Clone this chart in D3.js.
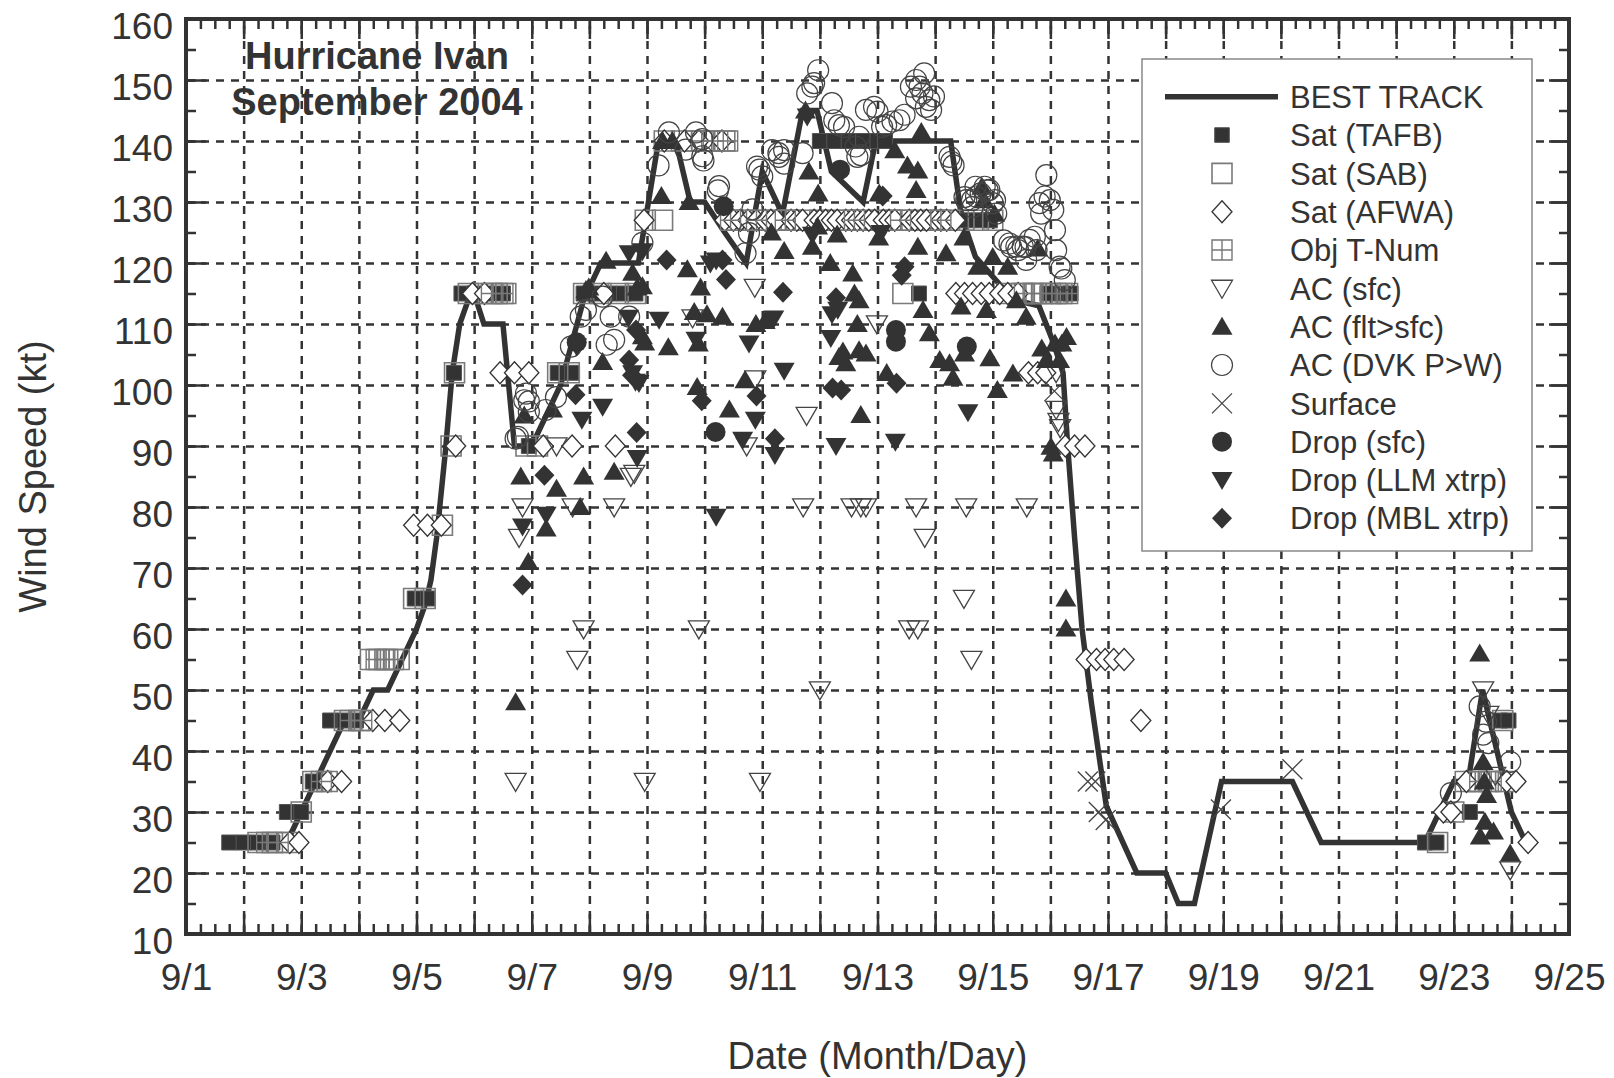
<!DOCTYPE html>
<html>
<head>
<meta charset="utf-8">
<script src="https://cdn.jsdelivr.net/npm/d3@7"></script>
<style>
  body { margin: 0; background: #fff; }
  svg text { font-family: "Liberation Sans", Arial, Helvetica, sans-serif; fill: #333; }
</style>
</head>
<body>
<svg width="1614" height="1078"></svg>
<script>
// ---- data: [day of September, wind speed kt] ----
var bestTrack = [[2.75,25],[3.0,30],[3.75,45],[4.0,45],[4.25,50],[4.5,50],[4.75,55],[5.0,60],[5.15,64],[5.25,68],[5.35,75],[5.5,89],[5.62,102],[5.75,110],[5.9,114],[6.0,115],[6.17,110],[6.5,110],[6.7,90],[7.0,90],[7.5,100],[7.9,114],[8.2,120],[8.85,120],[9.2,140],[9.5,140],[9.75,130],[10.0,130],[10.35,125],[10.72,120],[11.0,135],[11.35,128],[11.7,145],[11.95,145],[12.2,135],[12.75,130],[12.97,140],[14.27,140],[14.45,128],[14.7,121],[15.35,114],[15.8,113],[16.05,107],[16.22,102],[16.3,90],[16.42,75],[16.55,60],[16.71,48],[16.97,31],[17.5,20],[18.0,20],[18.22,15],[18.5,15],[18.97,35],[20.2,35],[20.7,25],[22.5,25],[23.0,35],[23.25,35],[23.5,50],[23.75,40],[24.0,30],[24.25,25]]

var satTAFB = [[1.75,25],[2.0,25],[2.25,25],[2.5,25],[2.75,30],[3.0,30],[3.2,35],[3.5,45],[3.75,45],[3.95,45],[4.97,65],[5.2,65],[5.65,102],[5.78,115],[6.0,115],[6.25,115],[6.5,115],[6.95,90],[7.45,102],[7.7,102],[7.9,115],[8.1,115],[8.35,115],[8.6,115],[8.8,115],[12.0,140],[12.25,140],[12.5,140],[12.75,140],[13.0,140],[13.13,140],[13.72,115],[14.55,127],[14.8,127],[14.95,127],[15.95,115],[16.2,115],[16.35,115],[22.5,25],[22.7,25],[23.28,30],[23.8,45],[23.95,45]]

var satSAB = [[2.25,25],[2.5,25],[2.75,25],[3.0,30],[3.2,35],[3.45,35],[3.75,45],[4.0,45],[4.2,55],[4.35,55],[4.5,55],[4.7,55],[4.95,65],[5.15,65],[5.45,77],[5.6,90],[5.66,102],[5.9,115],[6.15,115],[6.4,115],[6.55,115],[6.9,90],[7.1,90],[7.45,102],[7.65,102],[7.9,115],[8.2,115],[8.5,115],[8.8,115],[8.97,127],[9.27,127],[9.3,140],[9.6,140],[9.85,140],[10.1,140],[10.35,140],[10.5,127],[10.75,127],[11.0,127],[11.25,127],[11.5,127],[11.75,127],[12.0,127],[12.25,127],[12.5,127],[12.75,127],[13.0,127],[13.25,127],[13.5,127],[13.75,127],[14.0,127],[14.25,127],[14.5,127],[14.75,127],[15.0,127],[13.44,115],[15.25,115],[15.5,115],[15.75,115],[16.0,115],[16.2,115],[22.72,25],[23.0,30],[23.2,35],[23.4,35],[23.6,35],[23.9,35],[23.85,45]]

var satAFWA = [[2.8,25],[2.96,25],[3.46,35],[3.7,35],[4.24,45],[4.45,45],[4.71,45],[4.95,77],[5.19,77],[5.43,77],[5.68,90],[5.97,115],[6.18,115],[6.45,102],[6.7,102],[6.95,102],[7.2,90],[7.7,90],[8.45,90],[8.25,115],[8.95,127],[9.3,140],[9.65,140],[9.9,140],[10.3,140],
  [10.35,127],[10.5,127],[10.62,127],[10.75,127],[10.9,127],[11.05,127],[11.15,127],[11.25,127],[11.5,127],[11.6,127],[11.7,127],[11.9,127],[12.0,127],[12.1,127],[12.2,127],[12.3,127],[12.45,127],[12.55,127],[12.65,127],[12.75,127],[12.85,127],[12.95,127],[13.1,127],[13.2,127],[13.3,127],[13.55,127],[13.65,127],[13.75,127],[13.85,127],[14.0,127],[14.1,127],[14.2,127],[14.35,127],
  [14.36,115],[14.51,115],[14.65,115],[14.8,115],[14.94,115],[15.12,115],[15.26,115],[15.44,115],[15.62,102],[15.78,102],[15.92,102],[16.26,90],[16.42,90],[16.6,90],[16.62,55],[16.8,55],[16.95,55],[17.1,55],[17.28,55],[17.57,45],[22.82,30],[22.95,30],[23.22,35],[23.92,35],[24.08,35],[24.29,25]]

var objTNum = [[2.4,25],[2.6,25],[3.35,35],[3.85,45],[4.05,45],[4.3,55],[4.45,55],[4.6,55],[6.3,115],[6.5,115],[9.95,140],[10.15,140],[10.4,140],[10.45,127],[10.9,127],[11.4,127],[12.6,127],[13.4,127],[14.1,127],[15.55,115],[15.7,115],[15.85,115],[16.1,115],[16.3,115],[23.45,35],[23.65,35]]

var acSfc = [[6.72,35],[6.78,75],[6.84,80],[7.43,90],[7.71,80],[7.79,55],[7.9,60],[8.43,80],[8.72,85],[8.78,85.5],[8.96,35],[9.79,111],[9.9,60],[10.73,90],[10.88,101],[10.87,116],[10.96,35],[11.71,80],[11.77,95],[12.0,50],[12.55,80],[12.71,80],[12.8,80],[12.99,110],[13.55,60],[13.7,60],[13.67,80],[13.82,75],[14.5,65],[14.54,80],[14.63,55],[15.59,80],[16.1,102],[16.1,96],[16.14,94],[16.17,93],[23.51,50],[23.6,46],[23.72,36],[23.98,20.5]]

var acFlt = [[6.72,48],[6.81,85],[6.87,95],[6.94,71],[7.25,76.5],[7.36,96],[7.43,83],[7.84,80],[7.9,85],[7.94,115.6],[7.99,116],[8.23,103.8],[8.29,120.4],[8.43,85.8],[8.75,118.4],[8.83,116],[8.92,116.2],[8.92,108],[8.96,107],[9.25,131],[9.27,140],[9.44,140],[9.37,106.2],[9.7,119],[9.73,130],[9.82,112],[9.87,99.7],[9.89,106.8],[9.93,116],[10.04,111.6],[10.31,111.2],[10.43,96],[10.7,100.8],[10.89,110],[11.05,110.5],[11.16,125],[11.38,122],[11.75,145],[11.81,135],[11.87,122.7],[11.96,126],[11.97,131.4],[12.18,120],[12.3,124.7],[12.33,104.6],[12.4,105.5],[12.45,103.6],[12.57,118.3],[12.6,115],[12.65,110],[12.68,105.7],[12.68,113.9],[12.71,95.1],[12.8,105.2],[13.03,131.4],[13.02,124.2],[13.16,102],[13.3,138.5],[13.52,136],[13.7,135.2],[13.67,132],[13.76,141.5],[13.7,122.7],[13.79,112.3],[13.9,108.5],[14.08,104.1],[14.19,121.6],[14.25,103.6],[14.31,101.2],[14.45,112.9],[14.5,124.2],[14.51,105.2],[14.74,119.4],[14.81,132.5],[14.85,130.3],[14.89,112.3],[14.95,104.4],[15.0,121],[15.03,128.1],[15.08,99.2],[15.26,119.4],[15.35,101.9],[15.41,113.9],[15.58,111.2],[15.78,122.4],[15.85,106],[15.93,104.1],[16.01,89.9],[16.05,88.8],[16.08,106.8],[16.16,104.1],[16.2,106.8],[16.28,107.9],[16.27,65],[16.27,60.1],[23.45,56],[23.51,38.2],[23.53,35],[23.57,32.8],[23.54,28.4],[23.46,26],[23.69,26.8],[23.98,23.2]]

var acDVK = [[6.72,91.2],[6.76,91.5],[6.87,97.5],[6.9,98.6],[6.95,97.3],[6.95,95.6],[7.24,95.9],[7.42,98],[7.68,106.3],[7.85,111.2],[7.94,112.3],[8.23,114.5],[8.3,106.6],[8.37,111.2],[8.43,107.4],[8.69,111.2],[8.92,123.3],[9.2,136],[9.38,141.4],[9.67,138.6],[9.85,141.4],[9.96,140.3],[9.96,137.5],[9.98,136.8],[10.23,131.9],[10.25,132.6],[10.71,121.6],[10.77,124.9],[10.83,128.8],[10.91,135.8],[10.95,135.3],[11.0,134.2],[11.17,138.5],[11.28,138],[11.29,137.4],[11.38,136.3],[11.38,138.5],[11.7,138],[11.78,147.8],[11.87,148.9],[11.9,149.5],[11.97,151.6],[12.21,146.2],[12.25,143.4],[12.33,142.6],[12.42,142.3],[12.62,139.1],[12.65,137.4],[12.68,140.7],[12.71,137.7],[12.8,145.1],[12.94,145.6],[13.0,144.8],[13.08,142.3],[13.15,142.6],[13.26,143.2],[13.38,143.4],[13.47,144.3],[13.58,148.9],[13.67,147],[13.67,150],[13.73,148.9],[13.78,147.8],[13.81,151.1],[13.84,145.6],[13.9,146.7],[13.93,145.1],[13.98,147.3],[14.25,137.4],[14.28,136.6],[14.32,136],[14.51,130.8],[14.54,130.3],[14.64,130.3],[14.65,129.2],[14.7,132.5],[14.71,130.9],[14.79,131.4],[14.86,132.5],[14.91,131.9],[14.94,132],[15.0,129.8],[15.04,130.3],[15.06,128.1],[15.19,123.7],[15.29,123.2],[15.32,122.6],[15.41,122.7],[15.44,122.1],[15.52,122.7],[15.57,122.6],[15.58,120.5],[15.64,123.8],[15.73,124.3],[15.76,122.1],[15.81,129.8],[15.84,128.1],[15.9,130.9],[15.93,134.4],[15.99,130.3],[16.05,128.7],[16.08,125.4],[16.1,122.1],[16.16,119.4],[16.19,119.1],[16.25,117.2],[22.95,33.1],[23.45,47.3],[23.51,42.7],[23.56,44.8],[23.6,41.3],[23.98,38.2]]

var surface = [[16.07,99],[16.65,35],[16.78,35],[16.84,30],[16.96,28.7],[18.96,30.4],[20.2,37]]

var dropSfc = [[7.78,107],[10.19,92.3],[10.33,129.3],[12.35,135.3],[13.32,107.1],[13.32,109],[14.55,106.3]]

var dropLLM = [[6.84,76.8],[7.25,78.7],[7.78,106.3],[7.87,94.3],[8.23,96.4],[8.68,111],[8.69,121.6],[8.75,101.9],[8.8,100.5],[8.83,88],[8.86,100.3],[8.92,121.9],[9.21,110.7],[9.85,107.4],[10.1,119.9],[10.2,120.4],[10.2,78.4],[10.66,91],[10.77,106.8],[10.88,94.3],[11.2,110.9],[11.22,88.5],[11.38,102.3],[11.78,144],[11.87,124.6],[12.19,107.7],[12.21,111.6],[12.28,90],[12.31,112.3],[13.06,124.9],[13.31,90.7],[14.57,95.5]]

var dropMBL = [[6.84,67.2],[7.22,85.2],[7.76,98.4],[8.69,104.1],[8.74,101.6],[8.81,109],[8.82,92.2],[9.34,120.5],[9.95,97.4],[10.31,120.5],[10.37,117.3],[10.9,98.2],[11.22,91.2],[11.36,115.2],[12.22,99.5],[12.37,99.2],[12.28,114.3],[13.09,131],[13.33,100.3],[13.42,118],[13.47,119.4]]

var xTickDays = [1,3,5,7,9,11,13,15,17,19,21,23,25]
var yTickValues = [10,20,30,40,50,60,70,80,90,100,110,120,130,140,150,160]
var legendNames = ["BEST TRACK","Sat (TAFB)","Sat (SAB)","Sat (AFWA)","Obj T-Num","AC (sfc)","AC (flt>sfc)","AC (DVK P>W)","Surface","Drop (sfc)","Drop (LLM xtrp)","Drop (MBL xtrp)"]

// ---- layout ----
var ink = "#333"
var pL = 186, pR = 1569, pT = 19, pB = 934
var svg = d3.select("svg")

var x = d3.scaleLinear().domain([1,25]).range([pL,pR])
var y = d3.scaleLinear().domain([10,160]).range([pB,pT])

// grid
svg.append("g").attr("transform","translate(0,"+pB+")")
  .call(d3.axisBottom(x).tickValues(d3.range(2,25)).tickSize(-(pB-pT)).tickFormat(""))
  .call(function(g){ g.select(".domain").remove() })
  .selectAll("line").attr("stroke",ink).attr("stroke-width",2.5).attr("stroke-dasharray","8,7")
svg.append("g").attr("transform","translate("+pL+",0)")
  .call(d3.axisLeft(y).tickValues(d3.range(20,160,10)).tickSize(-(pR-pL)).tickFormat(""))
  .call(function(g){ g.select(".domain").remove() })
  .selectAll("line").attr("stroke",ink).attr("stroke-width",2.5).attr("stroke-dasharray","8,7")

// best track
var line = d3.line().x(function(d){ return x(d[0]) }).y(function(d){ return y(d[1]) })
svg.append("path").datum(bestTrack).attr("d",line)
  .attr("fill","none").attr("stroke",ink).attr("stroke-width",5.5).attr("stroke-linejoin","miter")

// marker shapes
function sq(s){ return "M"+(-s)+","+(-s)+"H"+s+"V"+s+"H"+(-s)+"Z" }
function dia(w,h){ return "M0,"+(-h)+"L"+w+",0L0,"+h+"L"+(-w)+",0Z" }
function triUp(w,h){ return "M0,"+(-h*0.55)+"L"+(w/2)+","+(h*0.45)+"L"+(-w/2)+","+(h*0.45)+"Z" }
function triDn(w,h){ return "M0,"+(h*0.55)+"L"+(w/2)+","+(-h*0.45)+"L"+(-w/2)+","+(-h*0.45)+"Z" }
function circ(r){ return "M"+(-r)+",0A"+r+","+r+" 0 1,0 "+r+",0A"+r+","+r+" 0 1,0 "+(-r)+",0Z" }
function times(a){ return "M"+(-a)+","+(-a)+"L"+a+","+a+"M"+(-a)+","+a+"L"+a+","+(-a) }
function plusSq(s){ return sq(s)+"M"+(-s)+",0H"+s+"M0,"+(-s)+"V"+s }

var styles = [
  {data: satTAFB, d: sq(7.5),        fill: ink,    stroke: "#555", sw: 1},
  {data: satSAB,  d: sq(10),         fill: "none", stroke: "#7a7a7a", sw: 1.6},
  {data: satAFWA, d: dia(10,11),     fill: "#fff", stroke: ink,    sw: 1.3},
  {data: objTNum, d: plusSq(10),     fill: "none", stroke: "#777", sw: 1.4},
  {data: acSfc,   d: triDn(21,18),   fill: "none", stroke: "#444", sw: 1.3},
  {data: acFlt,   d: triUp(21,18),   fill: ink,    stroke: "none", sw: 0},
  {data: acDVK,   d: circ(10.5),     fill: "none", stroke: "#444", sw: 1.2},
  {data: surface, d: times(10),      fill: "none", stroke: "#444", sw: 1.3},
  {data: dropSfc, d: circ(10),       fill: ink,    stroke: "none", sw: 0},
  {data: dropLLM, d: triDn(21,18),   fill: ink,    stroke: "none", sw: 0},
  {data: dropMBL, d: dia(10,10.5),   fill: ink,    stroke: "none", sw: 0}
]

styles.forEach(function(st){
  svg.append("g").selectAll("path").data(st.data).enter().append("path")
    .attr("transform", function(d){ return "translate("+x(d[0])+","+y(d[1])+")" })
    .attr("d", st.d)
    .attr("fill", st.fill).attr("stroke", st.stroke).attr("stroke-width", st.sw)
})

// ticks (inward) on all four sides
function tickStyle(g){ g.select(".domain").remove(); g.selectAll("line").attr("stroke",ink).attr("stroke-width",2.5) }
var minorX = d3.range(1,25.001,0.25), majorX = d3.range(1,26)
var minorY = d3.range(10,160.001,5), majorY = yTickValues
svg.append("g").attr("transform","translate(0,"+pB+")").call(d3.axisBottom(x).tickValues(minorX).tickSize(-10).tickFormat("")).call(tickStyle)
svg.append("g").attr("transform","translate(0,"+pB+")").call(d3.axisBottom(x).tickValues(majorX).tickSize(-20).tickFormat("")).call(tickStyle)
svg.append("g").attr("transform","translate(0,"+pT+")").call(d3.axisTop(x).tickValues(minorX).tickSize(-10).tickFormat("")).call(tickStyle)
svg.append("g").attr("transform","translate(0,"+pT+")").call(d3.axisTop(x).tickValues(majorX).tickSize(-20).tickFormat("")).call(tickStyle)
svg.append("g").attr("transform","translate("+pL+",0)").call(d3.axisLeft(y).tickValues(minorY).tickSize(-10).tickFormat("")).call(tickStyle)
svg.append("g").attr("transform","translate("+pL+",0)").call(d3.axisLeft(y).tickValues(majorY).tickSize(-20).tickFormat("")).call(tickStyle)
svg.append("g").attr("transform","translate("+pR+",0)").call(d3.axisRight(y).tickValues(minorY).tickSize(-10).tickFormat("")).call(tickStyle)
svg.append("g").attr("transform","translate("+pR+",0)").call(d3.axisRight(y).tickValues(majorY).tickSize(-20).tickFormat("")).call(tickStyle)

// border
svg.append("rect").attr("x",pL).attr("y",pT).attr("width",pR-pL).attr("height",pB-pT)
  .attr("fill","none").attr("stroke",ink).attr("stroke-width",4)

// tick labels
var xl = svg.append("g").attr("transform","translate(0,"+pB+")")
  .call(d3.axisBottom(x).tickValues(xTickDays).tickSize(0).tickPadding(30).tickFormat(function(d){ return "9/"+d }))
xl.select(".domain").remove()
xl.selectAll("text").attr("font-size",37).attr("fill",ink)

var yl = svg.append("g").attr("transform","translate("+pL+",0)")
  .call(d3.axisLeft(y).tickValues(yTickValues).tickSize(0).tickPadding(13))
yl.select(".domain").remove()
yl.selectAll("text").attr("font-size",37).attr("fill",ink).attr("dy","0.53em")

// axis titles
svg.append("text").attr("x",(pL+pR)/2).attr("y",1069).attr("text-anchor","middle")
  .attr("font-size",38).text("Date (Month/Day)")
svg.append("text").attr("transform","translate(46,"+((pT+pB)/2)+") rotate(-90)")
  .attr("text-anchor","middle").attr("font-size",38).text("Wind Speed (kt)")

// title
svg.append("text").attr("x",377).attr("y",69).attr("text-anchor","middle")
  .attr("font-size",38).attr("font-weight","bold").text("Hurricane Ivan")
svg.append("text").attr("x",377).attr("y",115).attr("text-anchor","middle")
  .attr("font-size",38).attr("font-weight","bold").text("September 2004")

// legend
var lg = svg.append("g")
lg.append("rect").attr("x",1142).attr("y",59).attr("width",390).attr("height",492)
  .attr("fill","#fff").attr("stroke","#888").attr("stroke-width",1.5)
var rowY = function(i){ return 96.7 + 38.33*i }
lg.append("line").attr("x1",1165).attr("x2",1278).attr("y1",rowY(0)).attr("y2",rowY(0))
  .attr("stroke",ink).attr("stroke-width",5.5)
styles.forEach(function(st,i){
  lg.append("path").attr("transform","translate(1222,"+rowY(i+1)+")")
    .attr("d", i === 0 ? sq(7.3) : st.d)
    .attr("fill", st.fill).attr("stroke", st.stroke).attr("stroke-width", st.sw)
})
lg.selectAll("text").data(legendNames).enter().append("text")
  .attr("x",1290).attr("y",function(d,i){ return rowY(i) }).attr("dy","0.36em")
  .attr("font-size",31).text(function(d){ return d })
</script>
</body>
</html>
